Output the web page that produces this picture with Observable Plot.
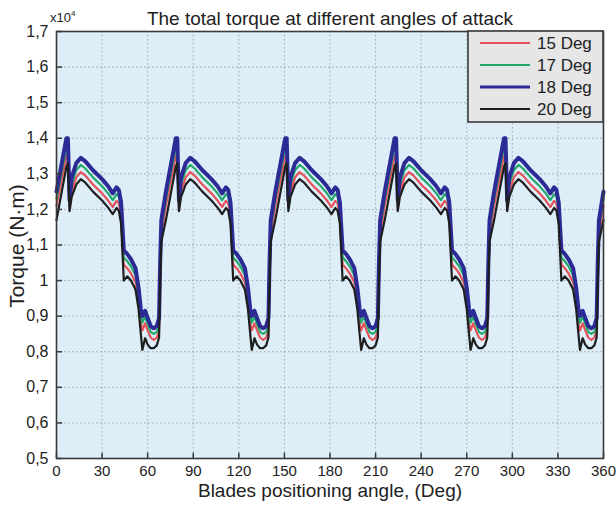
<!DOCTYPE html>
<html>
<head>
<meta charset="utf-8">
<script src="https://cdn.jsdelivr.net/npm/d3@7"></script>
<script src="https://cdn.jsdelivr.net/npm/@observablehq/plot@0.6"></script>
<style>
  html, body { margin: 0; padding: 0; background: #ffffff; }
  #chart svg { display: block; }
</style>
</head>
<body>
<div id="chart"></div>
<script>
// ---- Data (torque in units of 10^4 N·m) ----
const angles = [
  0, 6.5, 7.5, 8.6, 10, 13, 16, 19, 24, 30, 34, 37, 39.5, 41, 42.5, 44.3, 46.5, 49, 52, 54, 55.5, 56.5, 58.3, 60, 62, 64, 66, 67.5, 68.2, 69,
  72, 78.5, 79.5, 80.6, 82, 85, 88, 91, 96, 102, 106, 109, 111.5, 113, 114.5, 116.3, 118.5, 121, 124, 126, 127.5, 128.5, 130.3, 132, 134, 136, 138, 139.5, 140.2, 141,
  144, 150.5, 151.5, 152.6, 154, 157, 160, 163, 168, 174, 178, 181, 183.5, 185, 186.5, 188.3, 190.5, 193, 196, 198, 199.5, 200.5, 202.3, 204, 206, 208, 210, 211.5, 212.2, 213,
  216, 222.5, 223.5, 224.6, 226, 229, 232, 235, 240, 246, 250, 253, 255.5, 257, 258.5, 260.3, 262.5, 265, 268, 270, 271.5, 272.5, 274.3, 276, 278, 280, 282, 283.5, 284.2, 285,
  288, 294.5, 295.5, 296.6, 298, 301, 304, 307, 312, 318, 322, 325, 327.5, 329, 330.5, 332.3, 334.5, 337, 340, 342, 343.5, 344.5, 346.3, 348, 350, 352, 354, 355.5, 356.2, 357,
  360
];

const torque15 = [
  1.21, 1.35, 1.355, 1.205, 1.25, 1.29, 1.305, 1.295, 1.27, 1.245, 1.225, 1.207, 1.224, 1.217, 1.18, 1.045, 1.035, 1.02, 0.995, 0.94, 0.88, 0.86, 0.88, 0.86, 0.84, 0.833, 0.84, 0.86, 1.01, 1.13,
  1.21, 1.35, 1.355, 1.205, 1.25, 1.29, 1.305, 1.295, 1.27, 1.245, 1.225, 1.207, 1.224, 1.217, 1.18, 1.045, 1.035, 1.02, 0.995, 0.94, 0.88, 0.86, 0.88, 0.86, 0.84, 0.833, 0.84, 0.86, 1.01, 1.13,
  1.21, 1.35, 1.355, 1.205, 1.25, 1.29, 1.305, 1.295, 1.27, 1.245, 1.225, 1.207, 1.224, 1.217, 1.18, 1.045, 1.035, 1.02, 0.995, 0.94, 0.88, 0.86, 0.88, 0.86, 0.84, 0.833, 0.84, 0.86, 1.01, 1.13,
  1.21, 1.35, 1.355, 1.205, 1.25, 1.29, 1.305, 1.295, 1.27, 1.245, 1.225, 1.207, 1.224, 1.217, 1.18, 1.045, 1.035, 1.02, 0.995, 0.94, 0.88, 0.86, 0.88, 0.86, 0.84, 0.833, 0.84, 0.86, 1.01, 1.13,
  1.21, 1.35, 1.355, 1.205, 1.25, 1.29, 1.305, 1.295, 1.27, 1.245, 1.225, 1.207, 1.224, 1.217, 1.18, 1.045, 1.035, 1.02, 0.995, 0.94, 0.88, 0.86, 0.88, 0.86, 0.84, 0.833, 0.84, 0.86, 1.01, 1.13,
  1.21
];

const torque17 = [
  1.23, 1.375, 1.38, 1.215, 1.27, 1.31, 1.325, 1.315, 1.29, 1.265, 1.245, 1.226, 1.243, 1.236, 1.20, 1.065, 1.055, 1.04, 1.015, 0.96, 0.90, 0.882, 0.898, 0.878, 0.856, 0.85, 0.856, 0.878, 1.03, 1.15,
  1.23, 1.375, 1.38, 1.215, 1.27, 1.31, 1.325, 1.315, 1.29, 1.265, 1.245, 1.226, 1.243, 1.236, 1.20, 1.065, 1.055, 1.04, 1.015, 0.96, 0.90, 0.882, 0.898, 0.878, 0.856, 0.85, 0.856, 0.878, 1.03, 1.15,
  1.23, 1.375, 1.38, 1.215, 1.27, 1.31, 1.325, 1.315, 1.29, 1.265, 1.245, 1.226, 1.243, 1.236, 1.20, 1.065, 1.055, 1.04, 1.015, 0.96, 0.90, 0.882, 0.898, 0.878, 0.856, 0.85, 0.856, 0.878, 1.03, 1.15,
  1.23, 1.375, 1.38, 1.215, 1.27, 1.31, 1.325, 1.315, 1.29, 1.265, 1.245, 1.226, 1.243, 1.236, 1.20, 1.065, 1.055, 1.04, 1.015, 0.96, 0.90, 0.882, 0.898, 0.878, 0.856, 0.85, 0.856, 0.878, 1.03, 1.15,
  1.23, 1.375, 1.38, 1.215, 1.27, 1.31, 1.325, 1.315, 1.29, 1.265, 1.245, 1.226, 1.243, 1.236, 1.20, 1.065, 1.055, 1.04, 1.015, 0.96, 0.90, 0.882, 0.898, 0.878, 0.856, 0.85, 0.856, 0.878, 1.03, 1.15,
  1.23
];

const torque18 = [
  1.25, 1.40, 1.40, 1.225, 1.29, 1.33, 1.345, 1.335, 1.31, 1.285, 1.265, 1.245, 1.262, 1.255, 1.22, 1.085, 1.075, 1.06, 1.035, 0.98, 0.92, 0.90, 0.915, 0.895, 0.872, 0.866, 0.872, 0.895, 1.05, 1.17,
  1.25, 1.40, 1.40, 1.225, 1.29, 1.33, 1.345, 1.335, 1.31, 1.285, 1.265, 1.245, 1.262, 1.255, 1.22, 1.085, 1.075, 1.06, 1.035, 0.98, 0.92, 0.90, 0.915, 0.895, 0.872, 0.866, 0.872, 0.895, 1.05, 1.17,
  1.25, 1.40, 1.40, 1.225, 1.29, 1.33, 1.345, 1.335, 1.31, 1.285, 1.265, 1.245, 1.262, 1.255, 1.22, 1.085, 1.075, 1.06, 1.035, 0.98, 0.92, 0.90, 0.915, 0.895, 0.872, 0.866, 0.872, 0.895, 1.05, 1.17,
  1.25, 1.40, 1.40, 1.225, 1.29, 1.33, 1.345, 1.335, 1.31, 1.285, 1.265, 1.245, 1.262, 1.255, 1.22, 1.085, 1.075, 1.06, 1.035, 0.98, 0.92, 0.90, 0.915, 0.895, 0.872, 0.866, 0.872, 0.895, 1.05, 1.17,
  1.25, 1.40, 1.40, 1.225, 1.29, 1.33, 1.345, 1.335, 1.31, 1.285, 1.265, 1.245, 1.262, 1.255, 1.22, 1.085, 1.075, 1.06, 1.035, 0.98, 0.92, 0.90, 0.915, 0.895, 0.872, 0.866, 0.872, 0.895, 1.05, 1.17,
  1.25
];

const torque20 = [
  1.17, 1.32, 1.33, 1.195, 1.235, 1.27, 1.285, 1.275, 1.25, 1.225, 1.205, 1.187, 1.204, 1.197, 1.16, 1.0, 1.012, 1.0, 0.975, 0.92, 0.85, 0.805, 0.838, 0.82, 0.81, 0.81, 0.818, 0.84, 0.99, 1.11,
  1.17, 1.32, 1.33, 1.195, 1.235, 1.27, 1.285, 1.275, 1.25, 1.225, 1.205, 1.187, 1.204, 1.197, 1.16, 1.0, 1.012, 1.0, 0.975, 0.92, 0.85, 0.805, 0.838, 0.82, 0.81, 0.81, 0.818, 0.84, 0.99, 1.11,
  1.17, 1.32, 1.33, 1.195, 1.235, 1.27, 1.285, 1.275, 1.25, 1.225, 1.205, 1.187, 1.204, 1.197, 1.16, 1.0, 1.012, 1.0, 0.975, 0.92, 0.85, 0.805, 0.838, 0.82, 0.81, 0.81, 0.818, 0.84, 0.99, 1.11,
  1.17, 1.32, 1.33, 1.195, 1.235, 1.27, 1.285, 1.275, 1.25, 1.225, 1.205, 1.187, 1.204, 1.197, 1.16, 1.0, 1.012, 1.0, 0.975, 0.92, 0.85, 0.805, 0.838, 0.82, 0.81, 0.81, 0.818, 0.84, 0.99, 1.11,
  1.17, 1.32, 1.33, 1.195, 1.235, 1.27, 1.285, 1.275, 1.25, 1.225, 1.205, 1.187, 1.204, 1.197, 1.16, 1.0, 1.012, 1.0, 0.975, 0.92, 0.85, 0.805, 0.838, 0.82, 0.81, 0.81, 0.818, 0.84, 0.99, 1.11,
  1.17
];

const seriesNames = ["15 Deg", "17 Deg", "18 Deg", "20 Deg"];
const seriesColors = ["#e5525a", "#23a86c", "#2c2a95", "#1e1e1e"];
const seriesWidths = [2.2, 2.2, 4, 2.2];

const xTicks = [0, 30, 60, 90, 120, 150, 180, 210, 240, 270, 300, 330, 360];
const yTicks = [0.5, 0.6, 0.7, 0.8, 0.9, 1.0, 1.1, 1.2, 1.3, 1.4, 1.5, 1.6, 1.7];
const yTickLabels = ["0,5", "0,6", "0,7", "0,8", "0,9", "1", "1,1", "1,2", "1,3", "1,4", "1,5", "1,6", "1,7"];

const titleText = "The total torque at different angles of attack";
const xLabel = "Blades positioning angle, (Deg)";
const yLabel = "Torque (N·m)";

// ---- Build ----
const seriesValues = [torque15, torque17, torque18, torque20];
const idx = angles.map((_, i) => i);
const W = 616, H = 506;
const mL = 56, mR = 13, mT = 31, mB = 48;
const axisColor = "#3a3a3a";
const font = "'Liberation Sans', Arial, Helvetica, sans-serif";

const lineMarks = seriesValues.map((vals, s) =>
  Plot.line(idx, {
    x: i => angles[i],
    y: i => vals[i],
    stroke: seriesColors[s],
    strokeWidth: seriesWidths[s],
    strokeLinejoin: "round",
    strokeLinecap: "round"
  })
);

const chart = Plot.plot({
  width: W,
  height: H,
  marginLeft: mL,
  marginRight: mR,
  marginTop: mT,
  marginBottom: mB,
  style: { fontFamily: font, fontSize: "16px", color: "#222", background: "#ffffff", overflow: "visible" },
  x: { domain: [0, 360] },
  y: { domain: [0.5, 1.7] },
  marks: [
    Plot.frame({ fill: "#ddeef9", stroke: null }),
    Plot.gridX(xTicks, { stroke: "#8a96a3", strokeOpacity: 0.8, strokeDasharray: "1.5,2.5", strokeWidth: 1 }),
    Plot.gridY(yTicks, { stroke: "#8a96a3", strokeOpacity: 0.8, strokeDasharray: "1.5,2.5", strokeWidth: 1 }),
    ...lineMarks,
    Plot.ruleX(xTicks, { x: d => d, y1: 0.5, y2: 0.515, stroke: axisColor, strokeWidth: 1.5 }),
    Plot.ruleY(yTicks, { y: d => d, x1: 0, x2: 4, stroke: axisColor, strokeWidth: 1.5 }),
    Plot.frame({ stroke: axisColor, strokeWidth: 1.6 }),
    Plot.axisX(xTicks, { tickSize: 0, tickPadding: 7, label: null, fontSize: 15, fill: "#222" }),
    Plot.axisY(yTicks, {
      tickSize: 0, tickPadding: 8, label: null, fontSize: 16, fill: "#222",
      tickFormat: d => yTickLabels[yTicks.findIndex(t => Math.abs(t - d) < 1e-9)]
    })
  ]
});

const svg = d3.select(chart);
// Title
svg.append("text")
  .attr("x", 330).attr("y", 25)
  .attr("text-anchor", "middle")
  .attr("font-family", font).attr("font-size", 19).attr("fill", "#222")
  .text(titleText);
// Exponent
const ex = svg.append("text")
  .attr("x", 50).attr("y", 22)
  .attr("text-anchor", "start")
  .attr("font-family", font).attr("font-size", 13).attr("fill", "#222");
ex.append("tspan").text("x10");
ex.append("tspan").attr("dy", -6).attr("font-size", 8).text("4");
// X label
svg.append("text")
  .attr("x", 330).attr("y", 497)
  .attr("text-anchor", "middle")
  .attr("font-family", font).attr("font-size", 19).attr("fill", "#222")
  .text(xLabel);
// Y label
svg.append("text")
  .attr("transform", "translate(24,246) rotate(-90)")
  .attr("text-anchor", "middle")
  .attr("font-family", font).attr("font-size", 21).attr("fill", "#222")
  .text(yLabel);

// Legend
const lg = svg.append("g");
lg.append("rect")
  .attr("x", 468).attr("y", 31).attr("width", 135).attr("height", 91)
  .attr("fill", "#e6e6e6").attr("stroke", axisColor).attr("stroke-width", 1.6);
seriesNames.forEach((name, s) => {
  const cy = 43 + s * 22;
  lg.append("line")
    .attr("x1", 480).attr("x2", 530).attr("y1", cy).attr("y2", cy)
    .attr("stroke", seriesColors[s]).attr("stroke-width", s === 2 ? 3.2 : 2.2);
  lg.append("text")
    .attr("x", 537).attr("y", cy).attr("dy", "0.36em")
    .attr("text-anchor", "start")
    .attr("font-family", font).attr("font-size", 17).attr("fill", "#222")
    .text(name);
});

document.getElementById("chart").appendChild(chart);
</script>
</body>
</html>
